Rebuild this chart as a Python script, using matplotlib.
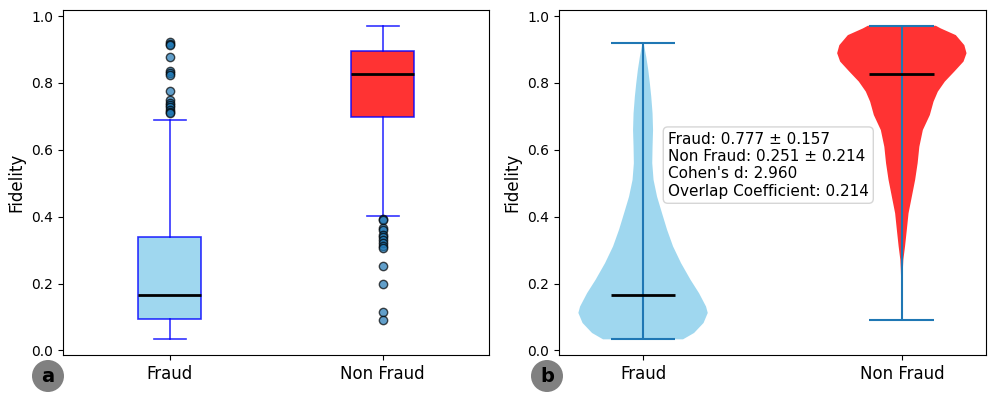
import numpy as np
import matplotlib
matplotlib.use("Agg")
import matplotlib.pyplot as plt
from matplotlib.patches import Ellipse

categories = ["Fraud", "Non Fraud"]
box_colors = ["skyblue", "red"]

# Box plot statistics
fraud_box = dict(whislo=0.033, q1=0.094, med=0.167, q3=0.338, whishi=0.690)
nonfraud_box = dict(whislo=0.403, q1=0.697, med=0.827, q3=0.896, whishi=0.971)
fraud_fliers = [0.921, 0.917, 0.913, 0.879, 0.837, 0.831, 0.825, 0.776,
                0.749, 0.741, 0.733, 0.729, 0.720, 0.714, 0.709]
nonfraud_fliers = [0.393, 0.390, 0.366, 0.360, 0.345, 0.339, 0.331, 0.320,
                   0.311, 0.306, 0.253, 0.199, 0.114, 0.090]

# Violin profiles (relative density)
fraud_coords = [0.033, 0.052, 0.082, 0.112, 0.131, 0.171, 0.211, 0.261, 0.311,
                0.361, 0.41, 0.46, 0.51, 0.56, 0.609, 0.659, 0.709, 0.759,
                0.799, 0.839, 0.878, 0.905, 0.92]
fraud_density = [40, 51, 60.5, 64.7, 63, 56, 47.5, 38, 30,
                 24, 19, 14, 10.5, 9.2, 9.5, 10, 9.5, 8.2,
                 6.8, 5.2, 3.2, 1.5, 0.5]
nonfraud_coords = [0.090, 0.15, 0.20, 0.24, 0.271, 0.311, 0.361, 0.41, 0.46,
                   0.51, 0.56, 0.609, 0.659, 0.704, 0.744, 0.774, 0.804,
                   0.834, 0.864, 0.889, 0.913, 0.943, 0.963, 0.971]
nonfraud_density = [0.3, 0.4, 0.6, 1.0, 1.5, 3.2, 5, 6.7, 10,
                    13.3, 15.8, 17.5, 21, 28, 31.7, 36, 43,
                    52.5, 61.7, 64.7, 62.5, 54, 39, 34]
fraud_stats = dict(mean=0.251, median=0.167, min=0.033, max=0.92)
nonfraud_stats = dict(mean=0.777, median=0.827, min=0.090, max=0.971)

stats_text = ("Fraud: 0.777 \u00b1 0.157\n"
              "Non Fraud: 0.251 \u00b1 0.214\n"
              "Cohen's d: 2.960\n"
              "Overlap Coefficient: 0.214")

fig = plt.figure(figsize=(9.96, 3.96), dpi=100)
ax1 = fig.add_axes([0.0633, 0.1035, 0.4277, 0.871])
ax2 = fig.add_axes([0.5612, 0.1035, 0.4287, 0.871])

# ---- Panel a: boxplot
bstats = []
for lab, b, fl in zip(categories, [fraud_box, nonfraud_box], [fraud_fliers, nonfraud_fliers]):
    d = dict(b)
    d["fliers"] = fl
    d["label"] = lab
    bstats.append(d)

bp = ax1.bxp(bstats, positions=[1, 2], widths=0.3, patch_artist=True,
             boxprops=dict(edgecolor="blue", linewidth=1.2, alpha=0.8),
             whiskerprops=dict(color="blue", linewidth=1.2, alpha=0.8),
             capprops=dict(color="blue", linewidth=1.2, alpha=0.8),
             medianprops=dict(color="black", linewidth=2),
             flierprops=dict(marker="o", markerfacecolor="#1f77b4", markeredgecolor="black",
                             markersize=6, alpha=0.7))
for patch, c in zip(bp["boxes"], box_colors):
    patch.set_facecolor(c)
    patch.set_alpha(0.8)
ax1.set_ylabel("Fidelity", fontsize=12)
ax1.tick_params(axis="x", labelsize=12)
ax1.tick_params(axis="y", labelsize=10)

# ---- Panel b: violin
vpstats = []
for coords, dens, st in zip([fraud_coords, nonfraud_coords],
                            [fraud_density, nonfraud_density],
                            [fraud_stats, nonfraud_stats]):
    d = dict(st)
    d["coords"] = np.array(coords)
    d["vals"] = np.array(dens, dtype=float)
    vpstats.append(d)

vp = ax2.violin(vpstats, positions=[1, 2], widths=0.5, showmeans=False,
                showextrema=True, showmedians=True)
for body, c in zip(vp["bodies"], box_colors):
    body.set_facecolor(c)
    body.set_edgecolor("none")
    body.set_alpha(0.8)
for key in ["cbars", "cmins", "cmaxes"]:
    vp[key].set_color("#1f77b4")
    vp[key].set_linewidth(1.5)
vp["cmedians"].set_color("black")
vp["cmedians"].set_linewidth(2)
ax2.set_xticks([1, 2])
ax2.set_xticklabels(categories)
ax2.set_ylabel("Fidelity", fontsize=12)
ax2.tick_params(axis="x", labelsize=12)
ax2.tick_params(axis="y", labelsize=10)
ax2.text(0.255, 0.648, stats_text, transform=ax2.transAxes, fontsize=11,
         va="top", ha="left", zorder=5,
         bbox=dict(boxstyle="round", facecolor="white", alpha=0.8, edgecolor="#cccccc"))

# ---- panel letters
for xc, lab in [(48, "a"), (547, "b")]:
    e = Ellipse((xc / 996, 1 - 376 / 396), 32 / 996, 32 / 396, transform=fig.transFigure,
                facecolor="gray", edgecolor="none")
    fig.add_artist(e)
    fig.text(xc / 996, 1 - 377 / 396, lab, ha="center", va="center", fontsize=14,
             fontweight="bold", color="black")

fig.savefig("out.png", dpi=100)
